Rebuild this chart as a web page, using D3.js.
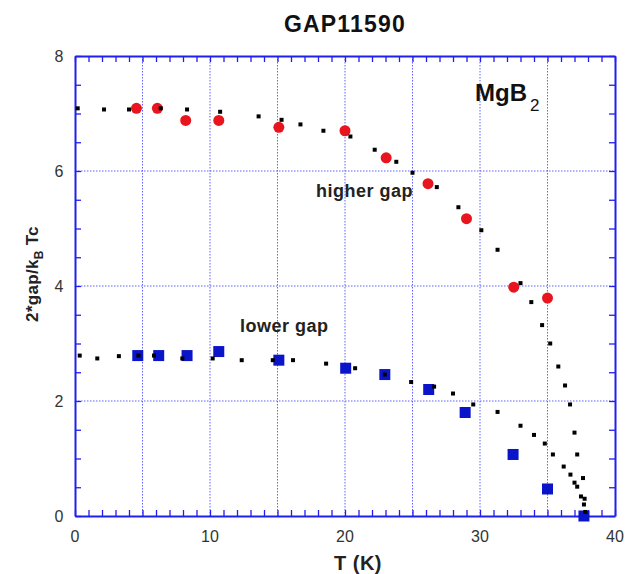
<html>
<head>
<script src="https://d3js.org/d3.v7.min.js"></script>
<style>
  body { margin: 0; background: #fff; }
  text { font-family: "Liberation Sans", Arial, sans-serif; }
</style>
</head>
<body>
<script>
// theory curves (small black dots)
var curveHighT = [0.2, 2.15, 4.0, 6.35, 8.3, 10.75, 13.6, 15.3, 16.7, 18.4, 20.4, 22.2, 23.8, 25.0, 26.8, 28.4, 30.1, 31.3, 33.0, 33.8, 34.6, 35.2, 35.8, 36.3, 36.67, 37.0, 37.2, 37.63, 37.75];
var curveHighV = [7.09, 7.07, 7.07, 7.09, 7.07, 7.03, 6.95, 6.89, 6.81, 6.70, 6.60, 6.37, 6.16, 5.97, 5.72, 5.37, 4.97, 4.63, 4.05, 3.72, 3.32, 3.00, 2.60, 2.27, 1.94, 1.45, 1.07, 0.66, 0.30];
var curveLowT = [0.35, 1.65, 3.25, 4.7, 5.85, 7.95, 10.2, 12.35, 14.65, 16.15, 18.6, 20.75, 22.95, 24.9, 26.6, 28.0, 29.5, 31.3, 33.0, 34.0, 34.8, 35.4, 36.2, 36.7, 37.0, 37.2, 37.48, 37.7, 37.8];
var curveLowV = [2.79, 2.74, 2.78, 2.79, 2.79, 2.74, 2.74, 2.71, 2.71, 2.71, 2.65, 2.57, 2.46, 2.33, 2.25, 2.13, 1.94, 1.81, 1.57, 1.41, 1.26, 1.07, 0.86, 0.72, 0.58, 0.51, 0.34, 0.20, 0.07];

// measured gaps
var highT = [4.55, 6.1, 8.2, 10.65, 15.1, 20.0, 23.05, 26.15, 29.0, 32.5, 35.0];
var highV = [7.09, 7.09, 6.88, 6.88, 6.76, 6.70, 6.23, 5.78, 5.17, 3.98, 3.79];
var lowT = [4.65, 6.2, 8.3, 10.65, 15.1, 20.05, 22.95, 26.2, 28.9, 32.45, 35.0, 37.7];
var lowV = [2.79, 2.79, 2.79, 2.86, 2.71, 2.57, 2.46, 2.20, 1.80, 1.07, 0.47, 0.0];

var xTickLabels = [0, 10, 20, 30, 40];
var yTickLabels = [0, 2, 4, 6, 8];

var W = 625, H = 574;
var pL = 75, pR = 615, pT = 56, pB = 516;
var blue = "#2020ee";

var svg = d3.select("body").append("svg").attr("width", W).attr("height", H);

var x = d3.scaleLinear().domain([0, 40]).range([pL, pR]);
var y = d3.scaleLinear().domain([0, 8]).range([pB, pT]);

// grid
svg.append("g").selectAll("line").data([5, 10, 15, 20, 25, 30, 35])
  .enter().append("line")
  .attr("x1", d => x(d)).attr("x2", d => x(d))
  .attr("y1", pT).attr("y2", pB)
  .attr("stroke", "#6060ff").attr("stroke-width", 1).attr("stroke-dasharray", "1.5,1.5");
svg.append("g").selectAll("line").data([2, 4, 6])
  .enter().append("line")
  .attr("x1", pL).attr("x2", pR)
  .attr("y1", d => y(d)).attr("y2", d => y(d))
  .attr("stroke", "#6060ff").attr("stroke-width", 1).attr("stroke-dasharray", "1.5,1.5");

// axes with inward ticks on all four sides
function tickStyle(g) {
  g.select(".domain").attr("stroke", blue).attr("stroke-width", 2);
  g.selectAll(".tick line").attr("stroke", blue).attr("stroke-width", 1.3);
}
var xMinor = d3.range(0, 41, 1), yMinor = d3.range(0, 8.01, 0.5);

svg.append("g").attr("transform", "translate(0," + pB + ")")
  .call(d3.axisBottom(x).tickValues(xMinor).tickSize(-6).tickSizeOuter(0).tickFormat(""))
  .call(tickStyle);
svg.append("g").attr("transform", "translate(0," + pT + ")")
  .call(d3.axisTop(x).tickValues(xMinor).tickSize(-6).tickSizeOuter(0).tickFormat(""))
  .call(tickStyle);
svg.append("g").attr("transform", "translate(" + pL + ",0)")
  .call(d3.axisLeft(y).tickValues(yMinor).tickSize(-6).tickSizeOuter(0).tickFormat(""))
  .call(tickStyle);
svg.append("g").attr("transform", "translate(" + pR + ",0)")
  .call(d3.axisRight(y).tickValues(yMinor).tickSize(-6).tickSizeOuter(0).tickFormat(""))
  .call(tickStyle);

// tick labels
svg.append("g").selectAll("text").data(xTickLabels)
  .enter().append("text")
  .attr("x", d => x(d)).attr("y", pB + 26)
  .attr("text-anchor", "middle").attr("font-size", 16).attr("fill", "#333")
  .text(d => d);
svg.append("g").selectAll("text").data(yTickLabels)
  .enter().append("text")
  .attr("x", pL - 16).attr("y", d => y(d) + 6)
  .attr("text-anchor", "middle").attr("font-size", 16).attr("fill", "#333")
  .text(d => d);

// theory dots
function dots(ts, vs) {
  svg.append("g").selectAll("rect").data(ts)
    .enter().append("rect")
    .attr("x", (d, i) => x(d) - 2).attr("y", (d, i) => y(vs[i]) - 2)
    .attr("width", 4).attr("height", 4).attr("fill", "#000");
}

// measured: blue squares
svg.append("g").selectAll("rect").data(lowT)
  .enter().append("rect")
  .attr("x", d => x(d) - 5.5).attr("y", (d, i) => y(lowV[i]) - 5.5)
  .attr("width", 11).attr("height", 11).attr("fill", "#0a14c8");
dots(curveLowT, curveLowV);

// measured: red circles
svg.append("g").selectAll("circle").data(highT)
  .enter().append("circle")
  .attr("cx", d => x(d)).attr("cy", (d, i) => y(highV[i]))
  .attr("r", 5.5).attr("fill", "#e8141e");
dots(curveHighT, curveHighV);

// labels
svg.append("text").attr("x", 345).attr("y", 32).attr("text-anchor", "middle")
  .attr("font-size", 23).attr("font-weight", "bold").attr("letter-spacing", 1.2).attr("fill", "#111").text("GAP11590");

var mg = svg.append("text").attr("x", 475).attr("y", 101).attr("font-size", 24).attr("font-weight", "bold").attr("fill", "#111");
mg.append("tspan").text("MgB");
mg.append("tspan").attr("font-size", 17).attr("font-weight", "normal").attr("dx", 3).attr("dy", 10).text("2");

svg.append("text").attr("x", 316).attr("y", 197).attr("font-size", 18).attr("font-weight", "bold")
  .attr("letter-spacing", 0.5).attr("fill", "#222").text("higher gap");
svg.append("text").attr("x", 240).attr("y", 332).attr("font-size", 18).attr("font-weight", "bold")
  .attr("letter-spacing", 0.5).attr("fill", "#222").text("lower gap");

svg.append("text").attr("x", 358).attr("y", 570).attr("text-anchor", "middle")
  .attr("font-size", 20).attr("font-weight", "bold").attr("letter-spacing", 0.5).attr("fill", "#222").text("T (K)");

var yl = svg.append("text").attr("transform", "translate(38,274) rotate(-90)")
  .attr("text-anchor", "middle").attr("font-size", 17).attr("font-weight", "bold")
  .attr("letter-spacing", 0.3).attr("fill", "#222");
yl.append("tspan").text("2*gap/k");
yl.append("tspan").attr("font-size", 12).attr("dy", 5).text("B");
yl.append("tspan").attr("dy", -5).text(" Tc");
</script>
</body>
</html>
